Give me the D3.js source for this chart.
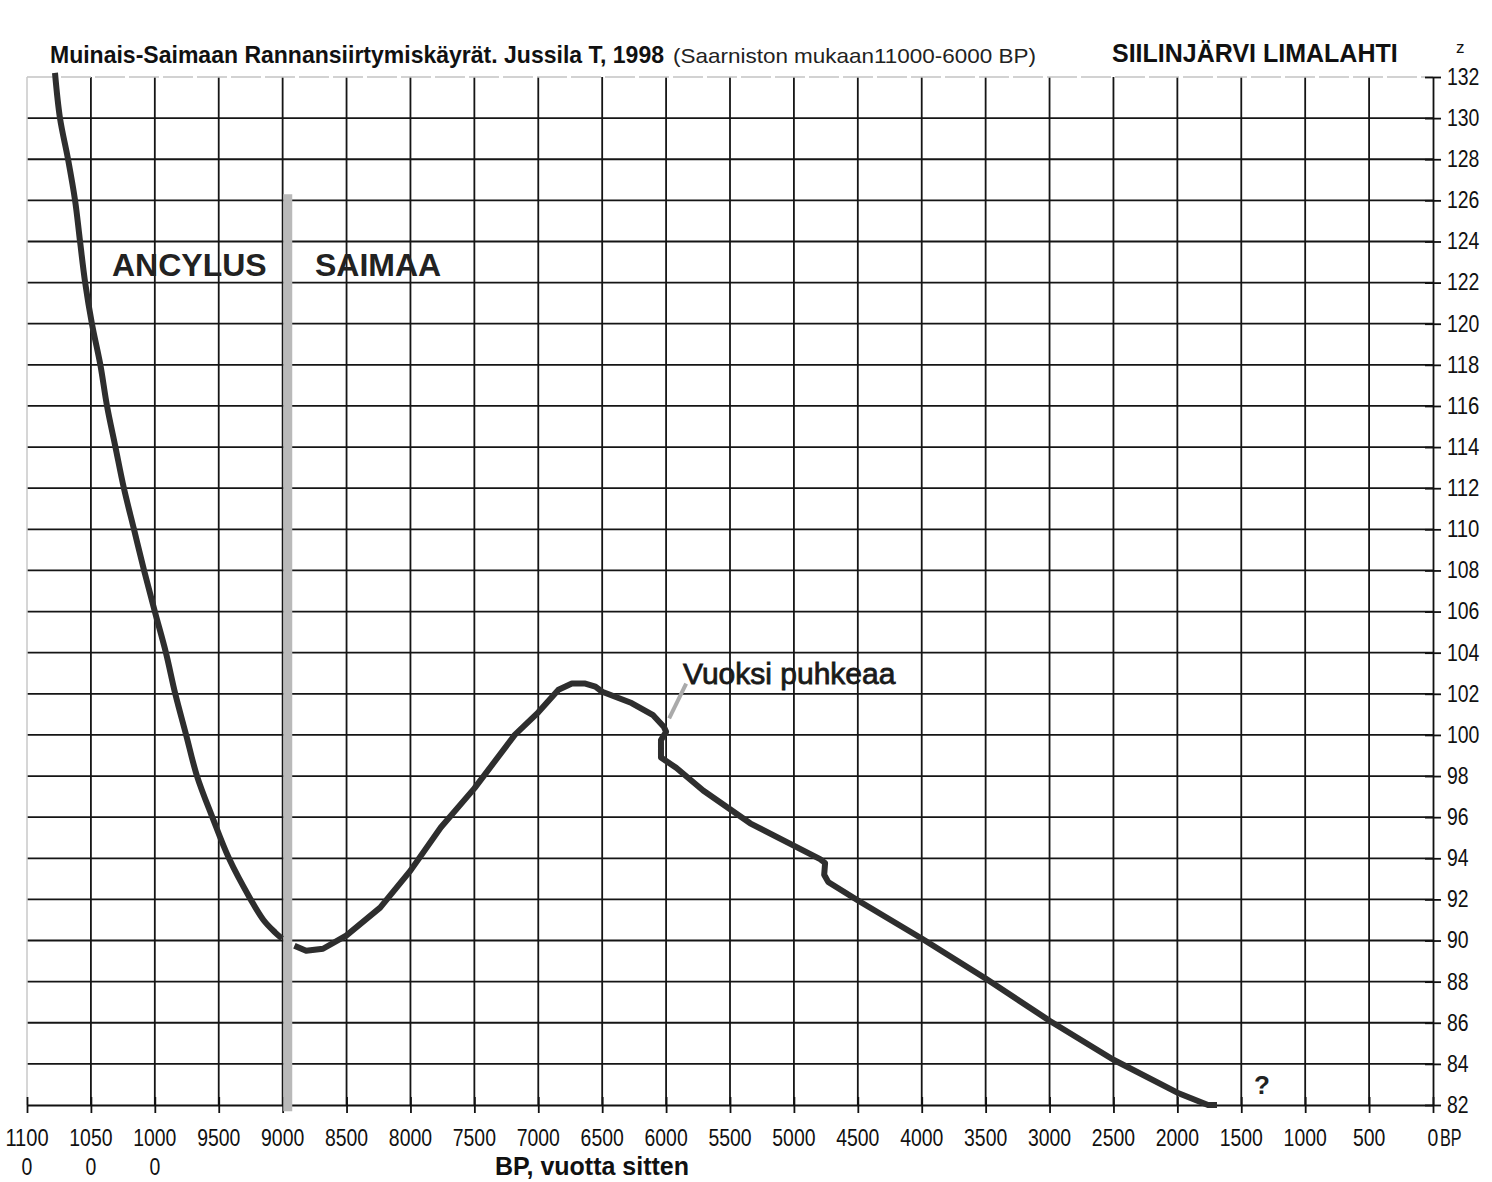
<!DOCTYPE html>
<html>
<head>
<meta charset="utf-8">
<script src="https://cdn.jsdelivr.net/npm/d3@7"></script>
<style>
  body { margin: 0; background: #fff; }
  svg { display: block; }
  .sans { font-family: 'Liberation Sans', Arial, sans-serif; }
</style>
</head>
<body>
<svg width="1492" height="1182"></svg>
<script>
// shore displacement curves
const ancylusYears = [10781, 10742, 10679, 10624, 10585, 10545, 10492, 10426, 10374, 10308, 10242, 10163, 10084, 10000, 9913, 9840, 9755, 9670, 9550, 9420, 9250, 9150, 9060, 9005]
const ancylusLevels = [132.2, 130, 128, 126, 124, 122, 120, 118, 116, 114, 112, 110, 108, 106, 104, 102, 100, 98, 96, 94, 92, 91, 90.4, 90.1]

const saimaaYears = [8908, 8816, 8684, 8500, 8237, 8000, 7763, 7500, 7184, 7000, 6842, 6737, 6632, 6553, 6500, 6270, 6105, 6018, 6000, 6040, 6040, 5921, 5710, 5342, 4795, 4756, 4763, 4732, 4505, 4000, 3500, 3000, 2500, 2000, 1760, 1690]
const saimaaLevels = [89.75, 89.5, 89.6, 90.25, 91.6, 93.4, 95.5, 97.4, 100.0, 101.1, 102.2, 102.5, 102.5, 102.35, 102.1, 101.55, 100.98, 100.4, 100.15, 99.75, 98.9, 98.4, 97.3, 95.7, 93.96, 93.77, 93.2, 92.85, 91.97, 90.1, 88.15, 86.1, 84.2, 82.6, 82.0, 82.0]

// boundary between Ancylus and Saimaa phases
const boundaryYear = 8960
const boundaryLevels = [126.3, 81.7]

// "Vuoksi puhkeaa" pointer
const pointerYears = [5976, 5843]
const pointerLevels = [100.8, 102.5]

const xTicks = d3.range(11000, -1, -500)
const xTickLine1 = ['1100', '1050', '1000', '9500', '9000', '8500', '8000', '7500', '7000', '6500', '6000', '5500', '5000', '4500', '4000', '3500', '3000', '2500', '2000', '1500', '1000', '500', '0']
const xTickLine2 = ['0', '0', '0']
const yTicks = d3.range(82, 133, 2)

const svg = d3.select('svg')

const x = d3.scaleLinear().domain([11000, 0]).range([27, 1433])
const y = d3.scaleLinear().domain([82, 132]).range([1105, 77])

// narrow look: squeeze each label to ~10.8px per character
const narrow = sel => sel
  .attr('textLength', function () { return this.textContent.length * 10.8 })
  .attr('lengthAdjust', 'spacingAndGlyphs')

const grid = svg.append('g').attr('class', 'grid')

// horizontal grid
grid.selectAll('line.h')
  .data(yTicks.filter(d => d > 82 && d < 132))
  .enter().append('line')
  .attr('x1', x(11000)).attr('x2', x(0))
  .attr('y1', d => y(d)).attr('y2', d => y(d))
  .attr('stroke', '#151515').attr('stroke-width', 1.8)

// vertical grid
grid.selectAll('line.v')
  .data(xTicks.filter(d => d > 0 && d < 11000))
  .enter().append('line')
  .attr('x1', d => x(d)).attr('x2', d => x(d))
  .attr('y1', y(132)).attr('y2', y(82))
  .attr('stroke', '#151515').attr('stroke-width', 1.8)

// faint plot border top & left
grid.append('line')
  .attr('x1', x(11000)).attr('x2', x(0)).attr('y1', y(132)).attr('y2', y(132))
  .attr('stroke', '#c4c4c4').attr('stroke-width', 1.5).attr('stroke-dasharray', '30,4')
grid.append('line')
  .attr('x1', x(11000)).attr('x2', x(11000)).attr('y1', y(132)).attr('y2', y(82))
  .attr('stroke', '#c8c8c8').attr('stroke-width', 1.5)

// right axis
const yAxis = svg.append('g')
  .attr('transform', `translate(${x(0)},0)`)
  .call(d3.axisRight(y).tickValues(yTicks).tickSize(8).tickSizeOuter(0).tickPadding(6))
yAxis.select('.domain').attr('stroke', '#111').attr('stroke-width', 1.8)
yAxis.selectAll('.tick line').attr('x1', -8).attr('stroke', '#111').attr('stroke-width', 1.8)
yAxis.selectAll('.tick text')
  .attr('class', 'sans')
  .attr('font-size', 23).attr('fill', '#111')
  .call(narrow)

// bottom axis
const xAxis = svg.append('g')
  .attr('transform', `translate(0,${y(82)})`)
  .call(d3.axisBottom(x).tickValues(xTicks).tickSize(8).tickSizeOuter(0).tickFormat(() => ''))
xAxis.select('.domain').attr('stroke', '#111').attr('stroke-width', 1.8)
xAxis.selectAll('.tick line').attr('y1', -8).attr('stroke', '#111').attr('stroke-width', 1.8)
xAxis.selectAll('.tick text').remove()

const xLab = svg.append('g').attr('class', 'sans').attr('font-size', 23).attr('fill', '#111').attr('text-anchor', 'middle')
xLab.selectAll('text.l1')
  .data(xTicks)
  .enter().append('text')
  .attr('x', d => x(d)).attr('y', 1146)
  .text((d, i) => xTickLine1[i])
  .call(narrow)
xLab.selectAll('text.l2')
  .data(xTicks.slice(0, xTickLine2.length))
  .enter().append('text')
  .attr('x', d => x(d)).attr('y', 1175)
  .text((d, i) => xTickLine2[i])
  .call(narrow)
xLab.append('text').attr('x', x(0) + 7).attr('y', 1146).attr('text-anchor', 'start').text('BP').call(narrow)

// phase boundary
svg.append('line')
  .attr('x1', x(boundaryYear)).attr('x2', x(boundaryYear))
  .attr('y1', y(boundaryLevels[0])).attr('y2', y(boundaryLevels[1]))
  .attr('stroke', '#b9b9b9').attr('stroke-width', 9)

// curves
const smooth = d3.line().x(d => x(d[0])).y(d => y(d[1])).curve(d3.curveCatmullRom.alpha(0.5))
const straight = d3.line().x(d => x(d[0])).y(d => y(d[1]))
svg.append('path')
  .attr('d', smooth(d3.zip(ancylusYears, ancylusLevels)))
  .attr('fill', 'none').attr('stroke', '#2e2e2e').attr('stroke-width', 6)
  .attr('stroke-linejoin', 'round')
svg.append('path')
  .attr('d', straight(d3.zip(saimaaYears, saimaaLevels)))
  .attr('fill', 'none').attr('stroke', '#2e2e2e').attr('stroke-width', 6)
  .attr('stroke-linejoin', 'round')

svg.append('path')
  .attr('d', straight(d3.zip(pointerYears, pointerLevels)))
  .attr('stroke', '#aaa').attr('stroke-width', 4)

// texts
svg.append('text')
  .attr('class', 'sans').attr('font-weight', 'bold').attr('font-size', 24).attr('fill', '#111')
  .attr('x', 50).attr('y', 63)
  .attr('textLength', 614).attr('lengthAdjust', 'spacingAndGlyphs')
  .text('Muinais-Saimaan Rannansiirtymiskäyrät. Jussila T, 1998')
svg.append('text')
  .attr('class', 'sans').attr('font-size', 21).attr('fill', '#222')
  .attr('x', 673).attr('y', 63)
  .attr('textLength', 363).attr('lengthAdjust', 'spacingAndGlyphs')
  .text('(Saarniston mukaan11000-6000 BP)')
svg.append('text')
  .attr('class', 'sans').attr('font-weight', 'bold').attr('font-size', 25).attr('fill', '#111')
  .attr('x', 1112).attr('y', 62)
  .text('SIILINJÄRVI LIMALAHTI')
svg.append('text')
  .attr('class', 'sans').attr('font-size', 17).attr('fill', '#111')
  .attr('x', 1456).attr('y', 53)
  .text('z')

svg.append('text')
  .attr('class', 'sans').attr('font-weight', 'bold').attr('font-size', 32).attr('fill', '#222')
  .attr('x', 112).attr('y', 276)
  .text('ANCYLUS')
svg.append('text')
  .attr('class', 'sans').attr('font-weight', 'bold').attr('font-size', 32).attr('fill', '#222')
  .attr('x', 315).attr('y', 276)
  .text('SAIMAA')
svg.append('text')
  .attr('class', 'sans').attr('font-size', 30).attr('fill', '#1a1a1a')
  .attr('stroke', '#1a1a1a').attr('stroke-width', 0.8)
  .attr('x', 683).attr('y', 684)
  .text('Vuoksi puhkeaa')
svg.append('text')
  .attr('class', 'sans').attr('font-weight', 'bold').attr('font-size', 26).attr('fill', '#222')
  .attr('x', 1254).attr('y', 1094)
  .text('?')

svg.append('text')
  .attr('class', 'sans').attr('font-weight', 'bold').attr('font-size', 25).attr('fill', '#111')
  .attr('x', 495).attr('y', 1175)
  .text('BP, vuotta sitten')
</script>
</body>
</html>
